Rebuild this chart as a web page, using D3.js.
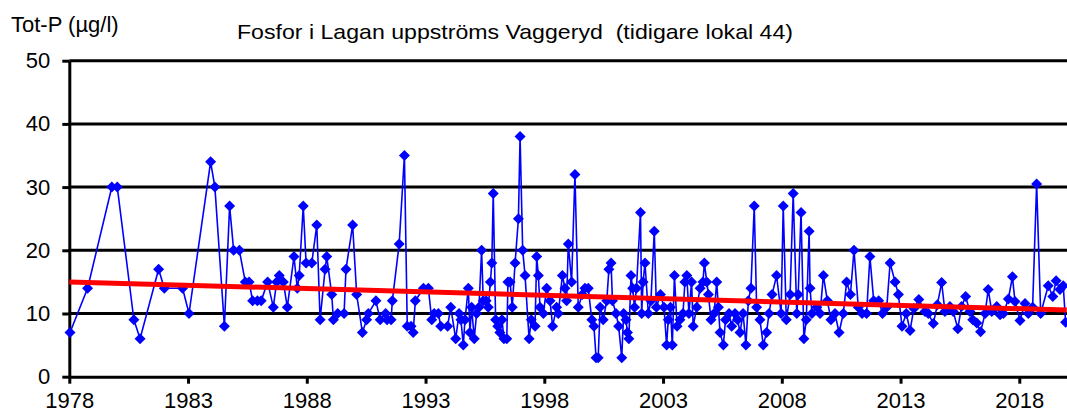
<!DOCTYPE html>
<html>
<head>
<meta charset="utf-8">
<script src="https://d3js.org/d3.v7.min.js"></script>
<style>
  html, body { margin: 0; padding: 0; background: #fff; }
  svg { display: block; }
  text { font-family: "Liberation Sans", Arial, sans-serif; fill: #000; }
</style>
</head>
<body>
<script>
// sample dates (decimal years) and Tot-P values
var sampleYear = [
  1978.03,1978.77,1979.79,1980.02,1980.72,1980.98,1981.76,1982.00,1982.77,1983.04,
  1983.95,1984.13,1984.53,1984.75,1984.92,1985.16,1985.41,1985.57,1985.72,1985.92,
  1986.08,1986.35,1986.59,1986.73,1986.84,1987.01,1987.18,1987.46,1987.60,1987.68,
  1987.85,1987.97,1988.21,1988.42,1988.56,1988.77,1988.84,1989.05,1989.12,1989.30,
  1989.57,1989.65,1989.93,1990.10,1990.34,1990.52,1990.59,1990.91,1991.09,1991.32,
  1991.38,1991.55,1991.60,1991.89,1992.11,1992.23,1992.39,1992.48,1992.57,1992.91,
  1993.12,1993.26,1993.36,1993.54,1993.64,1993.93,1994.06,1994.27,1994.41,1994.49,
  1994.59,1994.66,1994.80,1994.87,1994.94,1995.05,1995.15,1995.25,1995.36,1995.43,
  1995.55,1995.64,1995.73,1995.79,1995.85,1995.95,1996.04,1996.13,1996.22,1996.30,
  1996.42,1996.47,1996.56,1996.65,1996.77,1996.91,1996.98,1997.09,1997.19,1997.36,
  1997.45,1997.61,1997.68,1997.75,1997.82,1997.96,1998.10,1998.24,1998.35,1998.52,
  1998.59,1998.76,1998.87,1998.94,1999.01,1999.15,1999.29,1999.43,1999.60,1999.71,
  1999.85,2000.00,2000.09,2000.18,2000.27,2000.35,2000.48,2000.63,2000.72,2000.81,
  2000.87,2001.02,2001.13,2001.26,2001.34,2001.44,2001.50,2001.56,2001.65,2001.72,
  2001.80,2001.88,2002.05,2002.10,2002.16,2002.24,2002.38,2002.49,2002.63,2002.72,
  2002.89,2003.04,2003.15,2003.22,2003.31,2003.39,2003.48,2003.59,2003.71,2003.84,
  2003.92,2004.00,2004.09,2004.20,2004.27,2004.42,2004.56,2004.68,2004.74,2004.84,
  2004.91,2005.02,2005.15,2005.26,2005.33,2005.40,2005.54,2005.63,2005.78,2005.89,
  2006.03,2006.14,2006.24,2006.37,2006.49,2006.59,2006.70,2006.84,2006.94,2007.08,
  2007.22,2007.36,2007.46,2007.59,2007.78,2007.97,2008.06,2008.19,2008.35,2008.48,
  2008.63,2008.69,2008.81,2008.93,2009.03,2009.15,2009.19,2009.27,2009.47,2009.61,
  2009.75,2009.92,2010.07,2010.24,2010.41,2010.59,2010.73,2010.89,2011.04,2011.22,
  2011.38,2011.57,2011.71,2011.87,2012.08,2012.24,2012.42,2012.56,2012.77,2012.91,
  2013.06,2013.24,2013.40,2013.56,2013.77,2014.03,2014.17,2014.38,2014.55,2014.73,
  2014.87,2015.08,2015.22,2015.41,2015.57,2015.74,2015.92,2016.04,2016.21,2016.37,
  2016.56,2016.69,2016.84,2017.05,2017.19,2017.33,2017.54,2017.71,2017.82,2018.03,
  2018.24,2018.38,2018.56,2018.73,2018.90,2019.22,2019.41,2019.55,2019.71,2019.85,
  2019.95
];
var totP = [
  7,14,30,30,9,6,17,14,14,10,
  34,30,8,27,20,20,15,15,12,12,
  12,15,11,15,16,15,11,19,14,16,
  27,18,18,24,9,17,19,13,9,10,
  10,17,24,13,7,9,10,12,9,10,
  9,9,12,21,35,8,8,7,12,14,
  14,9,10,10,8,8,11,6,10,9,
  5,9,14,7,11,6,10,11,20,12,
  12,11,15,18,29,9,8,7,9,6,
  6,15,15,11,18,25,38,20,16,6,
  9,8,19,16,11,10,14,12,8,11,
  10,16,14,12,21,15,32,11,13,14,
  14,9,8,3,3,11,9,12,17,18,
  12,10,8,3,10,9,7,6,16,14,
  11,14,26,10,15,18,10,12,23,11,
  13,11,5,9,11,5,16,8,9,10,
  15,16,10,15,8,11,14,15,18,15,
  13,9,10,15,11,7,5,9,10,8,
  10,9,7,10,5,12,14,27,11,9,
  5,7,10,13,16,10,27,9,13,29,
  10,13,26,6,9,23,14,10,11,10,
  16,12,9,10,7,10,15,13,20,11,
  10,10,19,12,12,10,11,18,15,13,
  8,10,7.3,10.8,12.2,10.3,10,8.4,11.4,14.9,
  10.3,11.1,10.3,7.6,11.1,12.7,10.3,9,8.5,7.1,
  10,13.8,10.3,11.1,9.8,10,12.3,15.8,11.9,8.9,
  11.6,10,11,30.5,10,14.4,12.7,15.2,13.8,14.4,
  8.6
];

// linear trend, end points
var trendYear = [1978, 2020];
var trendValue = [15.0, 10.55];

var yTicks = [0, 10, 20, 30, 40, 50];
var xTickYears = [1978, 1983, 1988, 1993, 1998, 2003, 2008, 2013, 2018];

var titleText = "Fosfor i Lagan uppströms Vaggeryd  (tidigare lokal 44)";
var yLabelText = "Tot-P (µg/l)";

var width = 1067, height = 418;
var svg = d3.select("body").append("svg")
  .attr("width", width)
  .attr("height", height);

var x = d3.scaleLinear().domain([1978, 2020]).range([69.3, 1066.8]);
var y = d3.scaleLinear().domain([0, 50]).range([376.7, 60.7]);

// horizontal grid lines
svg.selectAll(".grid").data(yTicks.filter(function(d){ return d > 0; }))
  .enter().append("line")
  .attr("class", "grid")
  .attr("x1", x(1978)).attr("x2", width)
  .attr("y1", function(d){ return y(d); })
  .attr("y2", function(d){ return y(d); })
  .attr("stroke", "#000").attr("stroke-width", 3);

// y axis
var yAxis = svg.append("g")
  .attr("transform", "translate(" + x(1978) + ",0)")
  .call(d3.axisLeft(y).tickValues(yTicks).tickSize(7).tickSizeOuter(0).tickPadding(12));
yAxis.select(".domain").attr("stroke", "#000").attr("stroke-width", 3);
yAxis.selectAll(".tick line").attr("stroke", "#000").attr("stroke-width", 3);
yAxis.selectAll("text").attr("font-size", 22).attr("font-family", "Liberation Sans, Arial, sans-serif");

// x axis
var xAxis = svg.append("g")
  .attr("transform", "translate(0," + y(0) + ")")
  .call(d3.axisBottom(x).tickValues(xTickYears).tickFormat(d3.format("d"))
    .tickSize(7).tickSizeOuter(0).tickPadding(9));
xAxis.select(".domain").attr("stroke", "#000").attr("stroke-width", 3);
xAxis.selectAll(".tick line").attr("stroke", "#000").attr("stroke-width", 3);
xAxis.selectAll("text").attr("font-size", 22).attr("font-family", "Liberation Sans, Arial, sans-serif");

// data series
var points = sampleYear.map(function(d, i){ return {t: d, v: totP[i]}; });

var line = d3.line()
  .x(function(d){ return x(d.t); })
  .y(function(d){ return y(d.v); });

svg.append("path")
  .datum(points)
  .attr("d", line)
  .attr("fill", "none")
  .attr("stroke", "#0000ff")
  .attr("stroke-width", 1.6);

var diamond = {
  draw: function(ctx, size) {
    var r = Math.sqrt(size) / 2;
    ctx.moveTo(0, -r); ctx.lineTo(r, 0); ctx.lineTo(0, r); ctx.lineTo(-r, 0); ctx.closePath();
  }
};

svg.selectAll(".pt").data(points).enter().append("path")
  .attr("class", "pt")
  .attr("d", d3.symbol().type(diamond).size(121))
  .attr("transform", function(d){ return "translate(" + x(d.t) + "," + y(d.v) + ")"; })
  .attr("fill", "#0000ff");

// trend line
svg.append("path")
  .datum(trendYear.map(function(d, i){ return {t: d, v: trendValue[i]}; }))
  .attr("d", line)
  .attr("fill", "none")
  .attr("stroke", "#ff0000")
  .attr("stroke-width", 5);

// texts
svg.append("text")
  .attr("x", 11).attr("y", 32)
  .attr("font-size", 22)
  .text(yLabelText);

svg.append("text")
  .attr("x", 237).attr("y", 39)
  .attr("font-size", 21)
  .attr("textLength", 556)
  .attr("lengthAdjust", "spacingAndGlyphs")
  .style("white-space", "pre")
  .text(titleText);
</script>
</body>
</html>
